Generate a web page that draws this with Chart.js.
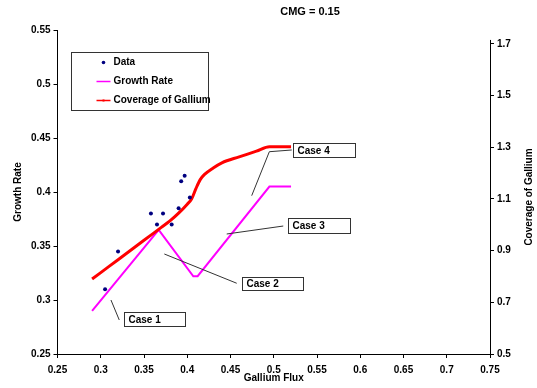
<!DOCTYPE html>
<html><head><meta charset="utf-8">
<script src="https://cdn.jsdelivr.net/npm/chart.js@4"></script>
<style>html,body{margin:0;padding:0;background:#fff}#wrap{width:537px;height:388px}</style>
</head><body><div id="wrap"><canvas id="c" width="537" height="388"></canvas></div>
<script>
const chartTitle = 'CMG = 0.15';
const xAxisTitle = 'Gallium Flux';
const yAxisTitle = 'Growth Rate';
const y2AxisTitle = 'Coverage of Gallium';
const seriesNames = ['Data', 'Growth Rate', 'Coverage of Gallium'];
const xTickValues = [0.25, 0.3, 0.35, 0.4, 0.45, 0.5, 0.55, 0.6, 0.65, 0.7, 0.75];
const yTickValues = [0.25, 0.3, 0.35, 0.4, 0.45, 0.5, 0.55];
const y2TickValues = [0.5, 0.7, 0.9, 1.1, 1.3, 1.5, 1.7];

const dataFlux   = [0.305, 0.320, 0.358, 0.365, 0.372, 0.382, 0.390, 0.393, 0.397, 0.403];
const dataGrowth = [0.310, 0.345, 0.380, 0.370, 0.380, 0.370, 0.385, 0.410, 0.415, 0.395];

const growthFlux = [0.290, 0.367, 0.407, 0.412, 0.495, 0.520];
const growthRate = [0.290, 0.365, 0.322, 0.322, 0.405, 0.405];

const coverageFlux   = [0.290, 0.300, 0.320, 0.340, 0.360, 0.370, 0.380, 0.390, 0.400, 0.405, 0.410, 0.415, 0.420, 0.430, 0.440, 0.460, 0.480, 0.495, 0.520];
const coverageValues = [0.790, 0.815, 0.865, 0.915, 0.965, 0.990, 1.015, 1.045, 1.080, 1.100, 1.140, 1.175, 1.195, 1.220, 1.240, 1.263, 1.285, 1.302, 1.302];

const caseLabels = ['Case 1', 'Case 2', 'Case 3', 'Case 4'];
// callout geometry in data units (x = flux, y = growth-rate axis)
const caseBoxes = [
  {x0: 0.3272, x1: 0.3977, y0: 0.2892, y1: 0.2759},
  {x0: 0.4630, x1: 0.5342, y0: 0.3216, y1: 0.3093},
  {x0: 0.5161, x1: 0.5882, y0: 0.3762, y1: 0.3623},
  {x0: 0.5219, x1: 0.5939, y0: 0.4451, y1: 0.4321}
];
const caseLeaders = [
  [[0.3118, 0.3000], [0.3214, 0.2815]],
  [[0.3735, 0.3426], [0.4572, 0.3155]],
  [[0.4456, 0.3611], [0.5110, 0.3685]],
  [[0.4745, 0.3966], [0.4949, 0.4373], [0.5208, 0.4389]]
];

const zip = (xs, ys) => xs.map((x, i) => ({x, y: ys[i]}));
const FONT = '"Liberation Sans", Arial, sans-serif';
const fmt = v => String(Number(v.toFixed(2)));

const extras = {
  id: 'extras',
  afterDraw(chart) {
    const ctx = chart.ctx, ca = chart.chartArea;
    const sx = chart.scales.x, sy = chart.scales.y, s2 = chart.scales.y1;
    ctx.save();
    // right axis line
    ctx.strokeStyle = '#000'; ctx.lineWidth = 1;
    ctx.beginPath();
    ctx.moveTo(Math.round(ca.right) + 0.5, s2.getPixelForValue(1.7) - 4);
    ctx.lineTo(Math.round(ca.right) + 0.5, ca.bottom);
    ctx.stroke();
    // titles
    ctx.fillStyle = '#000';
    ctx.font = 'bold 10px ' + FONT;
    ctx.textAlign = 'center'; ctx.textBaseline = 'middle';
    ctx.font = 'bold 11px ' + FONT;
    ctx.fillText(chartTitle, 310, 12);
    ctx.font = 'bold 10px ' + FONT;
    ctx.fillText(xAxisTitle, (ca.left + ca.right) / 2, 378);
    ctx.save(); ctx.translate(18, (ca.top + ca.bottom) / 2); ctx.rotate(-Math.PI / 2);
    ctx.fillText(yAxisTitle, 0, 0); ctx.restore();
    ctx.save(); ctx.translate(529, 197); ctx.rotate(-Math.PI / 2);
    ctx.fillText(y2AxisTitle, 0, 0); ctx.restore();
    // callouts
    ctx.lineWidth = 1;
    caseLeaders.forEach(pts => {
      ctx.strokeStyle = '#333';
      ctx.beginPath();
      pts.forEach((p, i) => {
        const px = sx.getPixelForValue(p[0]), py = sy.getPixelForValue(p[1]);
        i ? ctx.lineTo(px, py) : ctx.moveTo(px, py);
      });
      ctx.stroke();
    });
    caseBoxes.forEach((b, i) => {
      const x0 = Math.round(sx.getPixelForValue(b.x0)) + 0.5, x1 = Math.round(sx.getPixelForValue(b.x1)) + 0.5;
      const y0 = Math.round(sy.getPixelForValue(b.y0)) + 0.5, y1 = Math.round(sy.getPixelForValue(b.y1)) + 0.5;
      ctx.fillStyle = '#fff';
      ctx.fillRect(x0, y0, x1 - x0, y1 - y0);
      ctx.strokeStyle = '#333';
      ctx.strokeRect(x0, y0, x1 - x0, y1 - y0);
      ctx.fillStyle = '#000';
      ctx.font = 'bold 10px ' + FONT;
      ctx.textAlign = 'left'; ctx.textBaseline = 'middle';
      ctx.fillText(caseLabels[i], x0 + 4, (y0 + y1) / 2 + 0.5);
    });
    // legend
    const lx = Math.round(ca.left + 13.5) + 0.5, ly = Math.round(ca.top + 22) + 0.5;
    ctx.fillStyle = '#fff'; ctx.fillRect(lx, ly, 137, 58);
    ctx.strokeStyle = '#333'; ctx.strokeRect(lx, ly, 137, 58);
    const ds = chart.data.datasets;
    const rows = [ly + 10, ly + 29, ly + 48];
    // Data marker
    ctx.fillStyle = ds[0].pointBackgroundColor;
    ctx.beginPath(); ctx.arc(lx + 32, rows[0], 1.8, 0, Math.PI * 2); ctx.fill();
    // lines
    [1, 2].forEach(k => {
      ctx.strokeStyle = ds[k].borderColor; ctx.lineWidth = 1.5;
      ctx.beginPath(); ctx.moveTo(lx + 25, rows[k]); ctx.lineTo(lx + 39, rows[k]); ctx.stroke();
    });
    ctx.fillStyle = '#ff0000'; ctx.fillRect(lx + 31, rows[2] - 1, 2, 2);
    ctx.fillStyle = '#000'; ctx.font = 'bold 10px ' + FONT;
    ctx.textAlign = 'left'; ctx.textBaseline = 'middle';
    seriesNames.forEach((n, i) => ctx.fillText(n, lx + 42, rows[i]));
    ctx.restore();
  }
};

new Chart(document.getElementById('c'), {
  type: 'scatter',
  data: {
    datasets: [
      {label: seriesNames[0], data: zip(dataFlux, dataGrowth), yAxisID: 'y', showLine: false,
       pointRadius: 2, pointBackgroundColor: '#000080', pointBorderColor: '#000080', pointBorderWidth: 0, order: 0},
      {label: seriesNames[1], data: zip(growthFlux, growthRate), yAxisID: 'y', showLine: true,
       borderColor: '#ff00ff', borderWidth: 2, pointRadius: 0, tension: 0, order: 2},
      {label: seriesNames[2], data: zip(coverageFlux, coverageValues), yAxisID: 'y1', showLine: true,
       borderColor: '#ff0000', borderWidth: 3, pointRadius: 0, cubicInterpolationMode: 'monotone', order: 1}
    ]
  },
  options: {
    responsive: false, animation: false, devicePixelRatio: 1,
    layout: {padding: {top: 30, left: 0, right: 0, bottom: 0}},
    plugins: {legend: {display: false}, tooltip: {enabled: false}, title: {display: false}},
    scales: {
      x: {type: 'linear', min: 0.25, max: 0.75,
        afterFit: s => { s.height = 34; },
        afterBuildTicks: s => { s.ticks = xTickValues.map(v => ({value: v})); },
        grid: {display: true, drawOnChartArea: false, drawTicks: true, tickLength: 4, color: '#000'},
        border: {display: true, color: '#000', width: 1},
        ticks: {callback: v => fmt(v), color: '#000', font: {family: FONT, size: 10, weight: 'bold'}, padding: 6, maxRotation: 0, autoSkip: false}
      },
      y: {type: 'linear', position: 'left', min: 0.25, max: 0.55,
        afterFit: s => { s.width = 57.5; },
        afterBuildTicks: s => { s.ticks = yTickValues.map(v => ({value: v})); },
        grid: {display: true, drawOnChartArea: false, drawTicks: true, tickLength: 4, color: '#000'},
        border: {display: true, color: '#000', width: 1},
        ticks: {callback: v => fmt(v), color: '#000', font: {family: FONT, size: 10, weight: 'bold'}, padding: 3, autoSkip: false}
      },
      y1: {type: 'linear', position: 'right', min: 0.5, max: 1.754,
        afterFit: s => { s.width = 47; },
        afterBuildTicks: s => { s.ticks = y2TickValues.map(v => ({value: v})); },
        grid: {display: true, drawOnChartArea: false, drawTicks: true, tickLength: 4, color: '#000'},
        border: {display: false},
        ticks: {callback: v => fmt(v), color: '#000', font: {family: FONT, size: 10, weight: 'bold'}, padding: 3, autoSkip: false}
      }
    }
  },
  plugins: [extras]
});
</script></body></html>
